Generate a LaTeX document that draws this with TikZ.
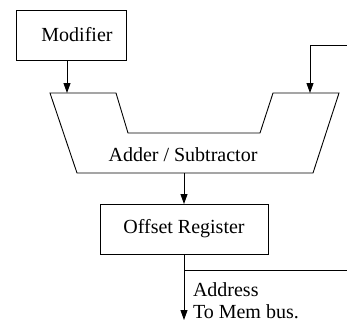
\documentclass[tikz,border=0pt]{standalone}
\usepackage{fontspec}
\setmainfont{Liberation Serif}
\usepackage{tikz}
\tikzset{
  every node/.style = {
    inner sep = 0pt,
    outer sep = 0pt
  }
}
\usetikzlibrary{
arrows.meta
}

\begin{document}
\begin{tikzpicture}[
      x = 1pt,
      y = -1pt,
      line width = 0.9pt,
      box/.style={
        draw,
        minimum height = 50pt,
        font = \fontsize{20}{24}\selectfont,
      },
      caption/.style={
        anchor = base west,
        font = \fontsize{20}{24}\selectfont,
      },
      flow/.style={
        -{Triangle[length=10pt, width=7pt]},
      },
      ]
      \useasboundingbox (0,0) rectangle (347,322);
      % blocks
      \node [box, minimum width=110pt, name=node-modifier] at (71,35)
        {\hspace{12pt}Modifier};
      \draw (50,93) -- (116,93) -- (128,133) -- (260,133) -- (273,93)
        -- (339,93) -- (313,173) -- (77,173) -- cycle;
      \node [anchor=base, font=\fontsize{20}{24}\selectfont, name=node-adder]
        at (183,161) {Adder / Subtractor};
      \node [box, minimum width=168pt, name=node-offset] at (184,229)
        {Offset Register\hspace{12pt}};
      % ports
      \coordinate (node-adder-in-a) at (67,93);
      \coordinate (node-adder-in-b) at (310,93);
      \coordinate (node-adder-out) at (184,173);
      \coordinate (node-ext) at (347,45);
      \coordinate (node-tap) at (184,270);
      \coordinate (node-tap-end) at (347,270);
      \coordinate (node-bus) at (184,320);
      % connectors
      \draw [flow] (node-modifier.south -| node-adder-in-a) -- (node-adder-in-a);
      \draw [flow] (node-ext) -| (node-adder-in-b);
      \draw [flow] (node-adder-out) -- (node-offset.north);
      \draw [flow] (node-offset.south) -- (node-bus);
      \draw (node-tap) -- (node-tap-end);
      \node [caption, name=node-address] at (193,296) {Address};
      \node [caption, name=node-membus] at (193,318) {To Mem bus.};
    \end{tikzpicture}
\end{document}
